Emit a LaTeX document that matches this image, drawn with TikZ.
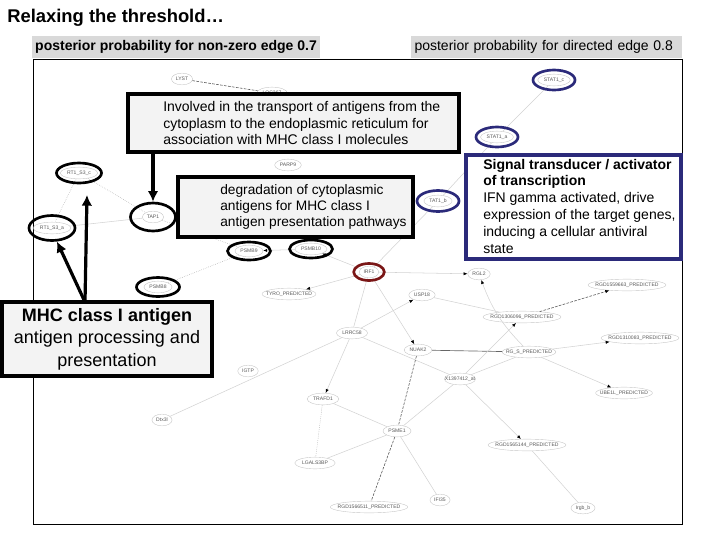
\documentclass[tikz,border=0pt]{standalone}
\usepackage{fontspec}
\setmainfont{Liberation Sans}
\usetikzlibrary{shapes.geometric,arrows.meta}
\definecolor{statblue}{RGB}{43,42,122}
\definecolor{irfred}{RGB}{122,22,22}
\definecolor{boxgray}{RGB}{243,243,243}
\definecolor{labelgray}{RGB}{217,217,217}
\newcommand{\genenode}[4]{\node[gene] (#1) at (#2,#3) {#4};}
\newcommand{\longgenenode}[4]{\node[gene,longgene] (#1) at (#2,#3) {#4};}
\newcommand{\genering}[2]{\node[#2] (#1ring) at (#1) {};}
\tikzset{
  gene/.style={ellipse, draw=gray!45, line width=0.3pt, inner xsep=1pt, inner ysep=1.6pt,
    text height=2.7pt, text depth=0.3pt, font=\fontsize{3.8}{4}\selectfont, text=gray!70!black},
  longgene/.style={inner xsep=-3pt},
  mhcring/.style={ellipse, draw=black, line width=2pt, inner sep=0pt, minimum width=33.75pt, minimum height=15pt},
  statring/.style={mhcring, draw=statblue, minimum width=31.5pt},
  irfring/.style={mhcring, draw=irfred, minimum width=23pt, minimum height=12.75pt},
  link/.style={draw=gray!35, line width=0.4pt},
  dotlink/.style={draw=gray!70, line width=0.4pt, densely dotted},
  darklink/.style={draw=black!65, line width=0.45pt, dash pattern=on 2pt off 1pt},
  solidlink/.style={draw=black!60, line width=0.5pt},
  dirlink/.style={link, -{Latex[length=3pt,width=2.4pt,color=black]}},
  heading/.style={fill=labelgray, inner xsep=2.5pt, minimum height=16pt, font=\fontsize{10.5}{12}\selectfont},
  notebox/.style={draw, line width=2.5pt, fill=boxgray},
  notetext/.style={anchor=west, align=left, inner sep=0pt, font=\fontsize{10.5}{12.4}\selectfont},
  bigarrow/.style={line width=2.4pt, -{Latex[length=8pt,width=8pt]}},
}
\begin{document}
\begin{tikzpicture}[x=0.75pt,y=-0.75pt]
\useasboundingbox (0,0) rectangle (720,540);
% title and the two headings
\node[anchor=base west, inner sep=0pt, font=\fontsize{13.8}{16}\selectfont\bfseries] (title) at (7,22) {Relaxing the threshold…};
\node[heading, font=\fontsize{10.5}{12}\selectfont\bfseries, minimum width=216pt] (nonzero) at (176,47) {posterior probability for non-zero edge 0.7};
\node[heading, text width=198pt, align=left] (directed) at (546.5,47) {posterior probability for directed edge 0.8};
% frame of the network
\draw[line width=0.6pt] (33,59) rectangle (682,524);
% genes
\genenode{lyst}{182}{79}{LYST}
\genenode{loc}{272}{93}{LOC367}
\genenode{statc}{554}{80}{STAT1\_c}
\genenode{stata}{497}{137}{STAT1\_a}
\genenode{statb}{438}{201}{TAT1\_b}
\genenode{parp}{288}{165}{PARP9}
\genenode{rtc}{79}{173}{RT1\_S3\_c}
\genenode{rta}{52}{228}{RT1\_S3\_a}
\genenode{tap}{153}{217}{TAP1}
\genenode{psmbnine}{249}{251}{PSMB9}
\genenode{psmbten}{311}{249}{PSMB10}
\genenode{psmbeight}{158}{287}{PSMB8}
\genenode{irf}{369}{272}{IRF1}
\genenode{rgl}{479}{274}{RGL2}
\longgenenode{tyro}{289}{294}{TYRO\_PREDICTED}
\genenode{usp}{422}{295}{USP18}
\longgenenode{rgda}{627}{285}{RGD1559663\_PREDICTED}
\longgenenode{rgdb}{522}{317}{RGD1306096\_PREDICTED}
\genenode{lrrc}{352}{333}{LRRC58}
\longgenenode{rgdc}{640}{338}{RGD1310083\_PREDICTED}
\genenode{nuak}{418}{350}{NUAK2}
\longgenenode{rgs}{529}{352}{RG\_S\_PREDICTED}
\longgenenode{ube}{624}{393}{UBE1L\_PREDICTED}
\longgenenode{xat}{460}{379}{X1397412\_at}
\genenode{igtp}{248}{371}{IGTP}
\genenode{trafd}{323}{399}{TRAFD1}
\genenode{dtx}{162}{420}{Dtx3l}
\genenode{psme}{397}{431}{PSME1}
\longgenenode{rgdd}{527}{445}{RGD1565144\_PREDICTED}
\genenode{lgals}{315}{463}{LGALS3BP}
\genenode{ifi}{440}{500}{IFI35}
\longgenenode{rgde}{369}{507}{RGD1566511\_PREDICTED}
\genenode{irgb}{583}{508}{Irgb\_b}
% undirected links
\draw[link] (statc) -- (stata);
\draw[link] (stata) -- (statb);
\draw[link] (statb) -- (irf);
\draw[link] (rta) -- (tap);
\draw[link] (irf) -- (lrrc);
\draw[link] (dtx) -- (lrrc);
\draw[link] (usp) -- (rgdb);
\draw[link] (lrrc) -- (xat);
\draw[link] (xat) -- (rgs);
\draw[link] (xat) -- (psme);
\draw[link] (rgdd) -- (irgb);
\draw[link] (psme) -- (trafd);
\draw[link] (psme) -- (lgals);
\draw[link] (psme) -- (ifi);
\draw[dotlink] (trafd) -- (lgals);
\draw[dotlink] (rtc) -- (rta);
\draw[dotlink] (rtc) -- (tap);
\draw[dotlink] (tap) -- (psmbnine);
\draw[dotlink] (psmbeight) -- (psmbnine);
\draw[darklink] (lyst) -- (loc);
\draw[darklink] (nuak) -- (psme);
\draw[darklink] (psme) -- (rgde);
\draw[solidlink] (nuak) -- (rgs);
% directed links
\draw[dirlink] (irf) -- (psmbten);
\draw[dirlink] (psmbten) -- (psmbnine);
\draw[dirlink] (irf) -- (rgl);
\draw[dirlink] (irf) -- (tyro);
\draw[dirlink] (irf) -- (nuak);
\draw[dirlink] (lrrc) -- (usp);
\draw[dirlink] (lrrc) -- (trafd);
\draw[dirlink] (xat) -- (rgdb);
\draw[dirlink] (xat) -- (rgdd);
\draw[dirlink] (rgs) -- (rgdc);
\draw[dirlink] (rgs) -- (ube);
\draw[dirlink] (rgs) to[bend left=12] (rgl);
\draw[dirlink, darklink] (rgdb) -- (rgda);
% rings round the genes of interest
\genering{rtc}{mhcring}
\genering{rta}{mhcring, minimum width=34.5pt, minimum height=18.75pt}
\genering{tap}{mhcring, minimum height=21pt}
\genering{psmbnine}{mhcring, minimum width=32.25pt, minimum height=13.5pt}
\genering{psmbten}{mhcring, minimum width=32.25pt, minimum height=13.5pt}
\genering{psmbeight}{mhcring, minimum width=32.25pt, minimum height=14.25pt}
\genering{statc}{statring}
\genering{stata}{statring}
\genering{statb}{statring, minimum height=15.75pt}
\genering{irf}{irfring}
% notes
\node[notebox, minimum width=248.25pt, minimum height=43.5pt] (transportbox) at (293.5,123) {};
\node[notetext] (transporttext) at (163,123) {Involved in the transport of antigens from the\\cytoplasm to the endoplasmic reticulum for\\association with MHC class I molecules};
\node[notebox, minimum width=176.25pt, minimum height=45pt] (degradebox) at (295.5,207) {};
\node[notetext, font=\fontsize{10.3}{12}\selectfont] (degradetext) at (220,207) {degradation of cytoplasmic\\antigens for MHC class I\\antigen presentation pathways};
\node[notebox, draw=statblue, fill=white, minimum width=161.25pt, minimum height=78pt] (statbox) at (573.5,207) {};
\node[notetext, font=\fontsize{10.5}{12.6}\selectfont] (stattext) at (483,206) {\textbf{Signal transducer / activator}\\\textbf{of transcription}\\IFN gamma activated, drive\\expression of the target genes,\\inducing a cellular antiviral\\state};
\node[notebox, minimum width=157.5pt, minimum height=55.5pt, align=center, font=\fontsize{13.5}{16.9}\selectfont] (mhcbox) at (107,339) {\textbf{MHC class I antigen}\\antigen processing and\\presentation};
% arrows from the notes
\coordinate (mhcfoot) at (85,302);
\coordinate (rtctip) at (87,195);
\draw[bigarrow] (transportbox.south -| tapring) -- (tapring.north);
\draw[bigarrow] (mhcfoot) -- (rtctip);
\draw[bigarrow] (mhcfoot) -- (rtaring.-70);
\end{tikzpicture}
\end{document}
